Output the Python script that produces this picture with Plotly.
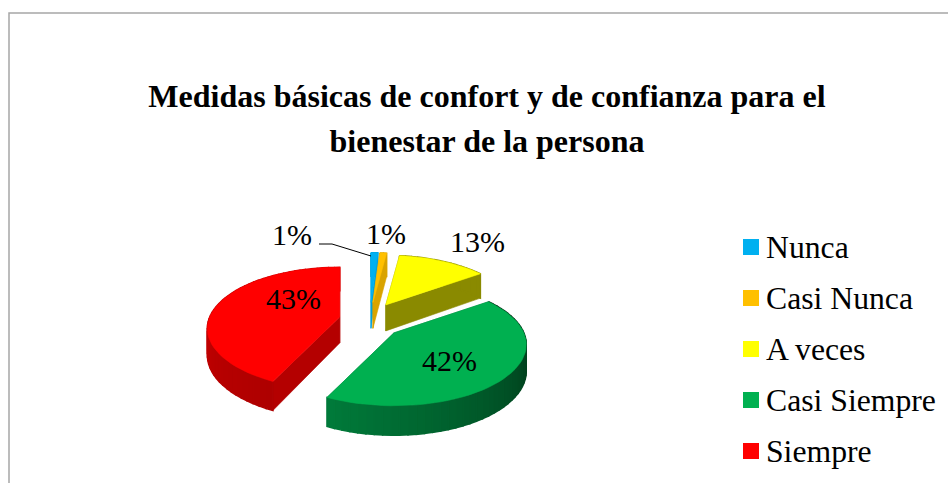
import math
import plotly.graph_objects as go

# Data
categories = ["Nunca", "Casi Nunca", "A veces", "Casi Siempre", "Siempre"]
values = [1, 1, 13, 42, 43]
title_lines = ["Medidas básicas de confort y de confianza para el", "bienestar de la persona"]

# Style
top_colors = ["#00B0F0", "#FFC000", "#FFFF00", "#00B050", "#FF0000"]
cut_colors = ["#00A0DC", "#D9A300", "#8A8A00", "#006B34", "#B40000"]
# rim colours at start angle and end angle of the slice
rim_colors = [("#00A0DC", "#00A0DC"), ("#D9A300", "#D9A300"), ("#8A8A00", "#8A8A00"),
              ("#00240F", "#007A3A"), ("#AE0000", "#DC0000")]
draw_order = [0, 1, 2, 4, 3]

CX, CY = 370, 321
RX, RY, PERSP = 130, 59, 0.19
EX, EY = 31, 18.7
DEPTH = 26

LEGEND_SWATCH_X = 751
LEGEND_TEXT_X = 765
LEGEND_TOP_Y = 247
LEGEND_STEP = 51


def proj(theta):
    den = 1 + PERSP * math.cos(theta)
    return RX * math.sin(theta) / den, -RY * math.cos(theta) / den, DEPTH / den ** 0.6


def hex_mix(a, b, t):
    ca = [int(a[i:i + 2], 16) for i in (1, 3, 5)]
    cb = [int(b[i:i + 2], 16) for i in (1, 3, 5)]
    return "#%02X%02X%02X" % tuple(round(x + (y - x) * t) for x, y in zip(ca, cb))


fig = go.Figure()


def poly(xs, ys, color, lw=0.6):
    fig.add_trace(go.Scatter(x=xs, y=ys, mode="lines", fill="toself", fillcolor=color,
                             line=dict(color=color, width=lw), hoverinfo="skip", showlegend=False))


total = sum(values)
starts = []
acc = 0
for v in values:
    starts.append(acc)
    acc += v

for i in draw_order:
    t0 = starts[i] / total * 2 * math.pi
    t1 = (starts[i] + values[i]) / total * 2 * math.pi
    mid = (t0 + t1) / 2
    ax = CX + EX * math.sin(mid)
    ay = CY - EY * math.cos(mid)
    n = max(2, int(values[i] * 1.2))
    thetas = [t0 + (t1 - t0) * k / n for k in range(n + 1)]
    pts = [proj(t) for t in thetas]
    # cut faces
    for (px, py, d) in (pts[0], pts[-1]):
        poly([ax, ax + px, ax + px, ax, ax], [ay, ay + py, ay + py + d, ay + DEPTH, ay], cut_colors[i])
    # outer rim, in small shaded strips
    for k in range(n):
        p, q = pts[k], pts[k + 1]
        c = hex_mix(rim_colors[i][0], rim_colors[i][1], k / max(1, n - 1))
        poly([ax + p[0], ax + q[0], ax + q[0], ax + p[0], ax + p[0]],
             [ay + p[1], ay + q[1], ay + q[1] + q[2], ay + p[1] + p[2], ay + p[1]], c, lw=1.5)
    # top face
    poly([ax] + [ax + p[0] for p in pts] + [ax], [ay] + [ay + p[1] for p in pts] + [ay], top_colors[i])

# Legend: swatch markers named after the categories, text beside them
annotations = []
for k, (name, col) in enumerate(zip(categories, top_colors)):
    y = LEGEND_TOP_Y + k * LEGEND_STEP
    fig.add_trace(go.Scatter(x=[LEGEND_SWATCH_X], y=[y], mode="markers", name=name, showlegend=False,
                             marker=dict(symbol="square", size=16, color=col), hoverinfo="name"))
    annotations.append(dict(x=LEGEND_TEXT_X, y=y, xref="x", yref="y", xanchor="left", text=name,
                            showarrow=False, xshift=-1,
                            font=dict(family="Liberation Serif", size=31.7, color="#000000")))

# Percent labels
label_pos = [(292, 234), (386, 233), (477, 241), (449, 360), (293, 298)]
annotations += [dict(x=x, y=y, xref="x", yref="y", text=f"{v}%", showarrow=False,
                     font=dict(family="Liberation Serif", size=30, color="#000000"))
                for v, (x, y) in zip(values, label_pos)]

fig.update_layout(
    width=948, height=483, margin=dict(l=0, r=0, t=0, b=0),
    paper_bgcolor="#FFFFFF", plot_bgcolor="#FFFFFF", showlegend=False,
    title=dict(
        text="<br>".join(f'<span style="font-size:32px">{t}</span>' for t in title_lines),
        font=dict(family="Liberation Serif", size=34.6, color="#000000", weight="bold"),
        x=487 / 948, xanchor="center", y=1 - 107 / 483, yanchor="middle"),
    xaxis=dict(range=[0, 948], visible=False, fixedrange=True),
    yaxis=dict(range=[483, 0], visible=False, fixedrange=True),
    annotations=annotations,
    shapes=[
        dict(type="path", path="M 9 483 L 9 13 L 948 13", xref="x", yref="y",
             line=dict(color="#A6A6A6", width=1.5)),
        dict(type="path", path="M 319 244 L 332 244 L 371 256", xref="x", yref="y",
             line=dict(color="#000000", width=1)),
    ],
)

fig.write_html("out.html", config={"displayModeBar": False},
               post_script="document.body.style.margin='0';document.body.style.overflow='hidden';")
